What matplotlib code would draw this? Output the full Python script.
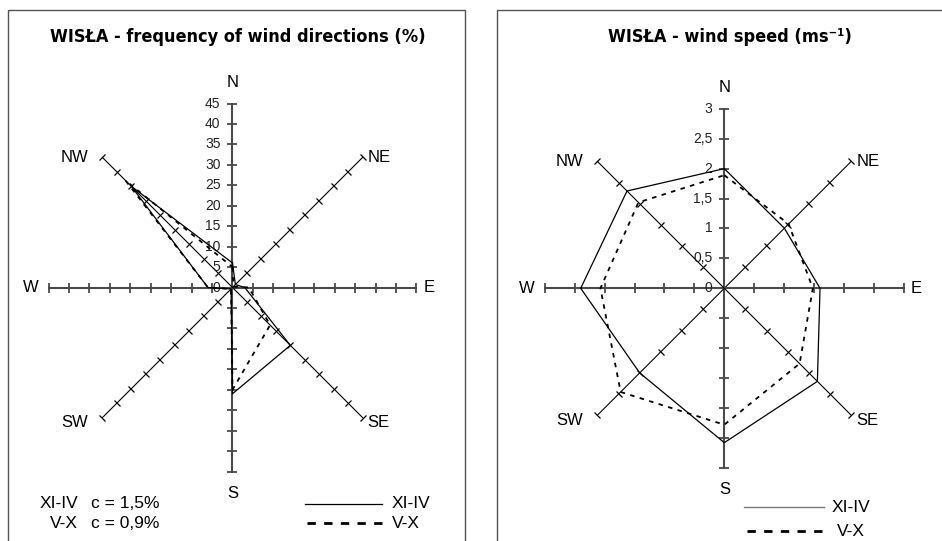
"""
Wind roses for Wisła: frequency of wind directions and mean wind speed,
winter half-year (XI-IV) vs summer half-year (V-X).
"""

import numpy as np
import matplotlib
matplotlib.use("Agg")
import matplotlib.pyplot as plt
from matplotlib.markers import MarkerStyle
from matplotlib.transforms import Affine2D
from matplotlib.patches import Rectangle

# ---------------------------------------------------------------------------
# Data
# ---------------------------------------------------------------------------
directions = ["N", "NE", "E", "SE", "S", "SW", "W", "NW"]

freq_xi_iv = [6, 1, 3, 20, 26, 0.5, 6, 35]
freq_v_x = [5, 0.3, 4, 13, 25, 0.5, 6, 37]
freq_ticks = [0, 5, 10, 15, 20, 25, 30, 35, 40, 45]
freq_tick_labels = ["0", "5", "10", "15", "20", "25", "30", "35", "40", "45"]

speed_xi_iv = [2.0, 1.42, 1.6, 2.2, 2.58, 2.0, 2.4, 2.3]
speed_v_x = [1.89, 1.52, 1.48, 1.78, 2.28, 2.45, 2.07, 2.03]
speed_ticks = [0, 0.5, 1, 1.5, 2, 2.5, 3]
speed_tick_labels = ["0", "0,5", "1", "1,5", "2", "2,5", "3"]

calm_labels = ["XI-IV", "V-X"]
calm_values = ["c = 1,5%", "c = 0,9%"]

# ---------------------------------------------------------------------------
# Style
# ---------------------------------------------------------------------------
W, H = 942, 541
SANS = ["Liberation Sans", "DejaVu Sans"]
AXIS_MAIN = "#4a4a4a"
DASH = (0, (2.5, 3.0))
LEG_FS = 12.5

fig = plt.figure(figsize=(W / 100, H / 100), dpi=100)
fig.patch.set_facecolor("white")

bg = fig.add_axes([0, 0, 1, 1])
bg.set_xlim(0, W)
bg.set_ylim(H, 0)
bg.axis("off")

# panel frames (bottom / right edges run off the picture)
bg.add_patch(Rectangle((7.5, 10), 457.5, 560, fill=False, ec="#555555", lw=1.0))
bg.add_patch(Rectangle((497, 10), 480, 560, fill=False, ec="#555555", lw=1.0))

bg.text(238, 37, "WISŁA - frequency of wind directions (%)", ha="center",
        va="center", fontsize=13, fontweight="bold", family="DejaVu Sans",
        fontstretch="condensed")
bg.text(730, 37, "WISŁA - wind speed (ms⁻¹)", ha="center",
        va="center", fontsize=13, fontweight="bold", family="DejaVu Sans",
        fontstretch="condensed")

# direction label placement: (dx, dy, ha) in pixels from the spoke end
label_pos = {
    "N": (0, 21, "center"), "NE": (5, 0, "left"), "E": (7, 0, "left"),
    "SE": (5, -5, "left"), "S": (0, -22, "center"), "SW": (-14, -5, "right"),
    "W": (-10, 0, "right"), "NW": (-14, 0, "right"),
}


def rose(cx, cy, rad_px, ticks, tick_labels, solid_vals, dashed_vals,
         tick_fs):
    ax = fig.add_axes([(cx - rad_px) / W, (H - cy - rad_px) / H,
                       2 * rad_px / W, 2 * rad_px / H], projection="polar")
    ax.set_theta_zero_location("N")
    ax.set_theta_direction(-1)
    ax.set_ylim(0, ticks[-1])
    ax.grid(False)
    ax.set_xticks([])
    ax.set_yticks([])
    ax.spines["polar"].set_visible(False)
    ax.patch.set_visible(False)

    rmax = ticks[-1]
    theta = np.deg2rad(np.arange(len(directions)) * 45)

    for i, t in enumerate(theta):
        main = i % 2 == 0
        col = AXIS_MAIN if main else "black"
        lw = 1.5 if main else 0.8
        ax.plot([t, t], [0, rmax], color=col, lw=lw, clip_on=False, zorder=2)
        mk = MarkerStyle("|", transform=Affine2D().rotate_deg(90 - i * 45))
        ax.plot([t] * (len(ticks) - 1), ticks[1:], ls="none", marker=mk,
                ms=6.5 if main else 5.5, mew=1.3 if main else 0.9, color=col,
                clip_on=False, zorder=2)

        dx, dy, ha = label_pos[directions[i]]
        ax.annotate(directions[i], xy=(t, rmax), xytext=(dx, dy),
                    textcoords="offset pixels", ha=ha, va="center",
                    fontsize=12, family=SANS)

    for r, lbl in zip(ticks, tick_labels):
        ax.annotate(lbl, xy=(0, r), xytext=(-12, 0), textcoords="offset pixels",
                    ha="right", va="center", fontsize=tick_fs, family=SANS,
                    color="#222222")

    th = np.append(theta, theta[0])
    ax.plot(th, np.append(solid_vals, solid_vals[0]), color="black", lw=0.9,
            clip_on=False, zorder=3)
    ax.plot(th, np.append(dashed_vals, dashed_vals[0]), color="black", lw=1.3,
            ls=DASH, clip_on=False, zorder=3)
    return ax


rose(232.5, 287.5, 184, freq_ticks, freq_tick_labels, freq_xi_iv, freq_v_x, 10)
rose(724.3, 288.3, 179.5, speed_ticks, speed_tick_labels, speed_xi_iv,
     speed_v_x, 10)

# ---------------------------------------------------------------------------
# Legends / calm notes
# ---------------------------------------------------------------------------
for y, lbl, val in zip([504, 523], calm_labels, calm_values):
    bg.text(78, y, lbl, ha="right", va="center", fontsize=LEG_FS, family=SANS)
    bg.text(91, y, val, ha="left", va="center", fontsize=LEG_FS, family=SANS)

bg.plot([305, 382], [504, 504], color="black", lw=0.9)
bg.plot([307, 388], [523, 523], color="black", lw=2.0, ls=(0, (3, 3)))
bg.text(392, 504, "XI-IV", ha="left", va="center", fontsize=LEG_FS, family=SANS)
bg.text(392, 523, "V-X", ha="left", va="center", fontsize=LEG_FS, family=SANS)

bg.plot([744, 824], [507, 507], color="#777777", lw=1.0)
bg.plot([747, 826], [531, 531], color="black", lw=2.0, ls=(0, (3, 3)))
bg.text(832, 507, "XI-IV", ha="left", va="center", fontsize=LEG_FS, family=SANS)
bg.text(837, 531, "V-X", ha="left", va="center", fontsize=LEG_FS, family=SANS)

fig.savefig("out.png", dpi=100, facecolor="white")
plt.close(fig)
